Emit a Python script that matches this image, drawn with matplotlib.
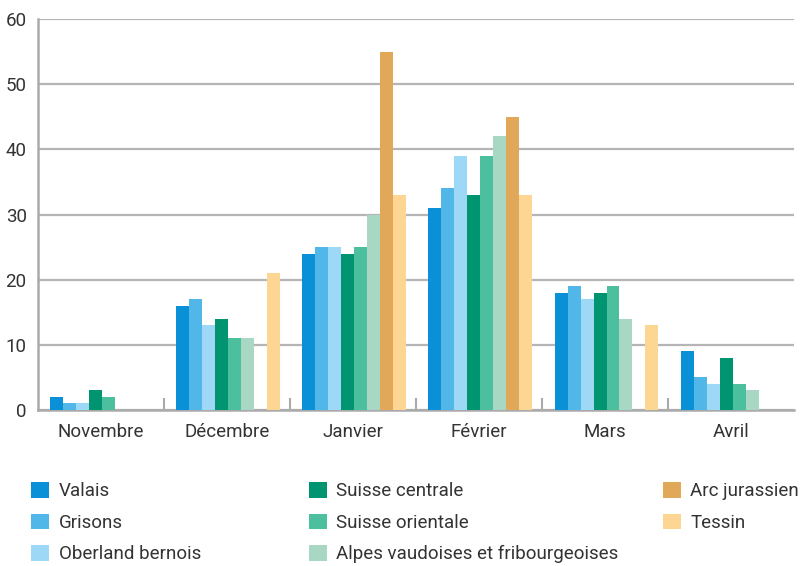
import matplotlib.pyplot as plt
import numpy as np

plt.rcParams['font.family'] = ['Roboto', 'DejaVu Sans']

mois = ['Novembre', 'Décembre', 'Janvier', 'Février', 'Mars', 'Avril']

# valeurs par région
valais = [2, 16, 24, 31, 18, 9]
grisons = [1, 17, 25, 34, 19, 5]
oberland = [1, 13, 25, 39, 17, 4]
suisse_centrale = [3, 14, 24, 33, 18, 8]
suisse_orientale = [2, 11, 25, 39, 19, 4]
alpes_vaud = [0, 11, 30, 42, 14, 3]
arc_jura = [0, 0, 55, 45, 0, 0]
tessin = [0, 21, 33, 33, 13, 0]

series = [valais, grisons, oberland, suisse_centrale, suisse_orientale,
          alpes_vaud, arc_jura, tessin]
noms = ['Valais', 'Grisons', 'Oberland bernois', 'Suisse centrale',
        'Suisse orientale', 'Alpes vaudoises et fribourgeoises',
        'Arc jurassien', 'Tessin']
couleurs = ['#0A90D7', '#51B6E8', '#9DD8F6', '#009570', '#4CC09E',
            '#A8D8C4', '#E2A859', '#FDD693']

fig = plt.figure(figsize=(8.04, 5.66), dpi=100)
ax = fig.add_axes([0.047, 0.2756, 0.941, 0.6908])

x = np.arange(len(mois))
w = 0.103
barres = []
for i, (vals, c) in enumerate(zip(series, couleurs)):
    b = ax.bar(x - 3.4 * w + i * w, vals, width=w, color=c, zorder=3)
    barres.append(b)

ax.set_xlim(-0.5, len(mois) - 0.5)
ax.set_ylim(0, 60)
ax.set_yticks(np.arange(0, 61, 10))
ax.yaxis.grid(True, color='#b5b5b5', linewidth=1.6, zorder=0)
ax.set_xticks(x)
ax.set_xticklabels(mois)
ax.set_xticks(np.arange(0.5, len(mois) - 0.5, 1), minor=True)
ax.tick_params(axis='x', which='major', length=0, pad=9, labelsize=13.5, colors='#333333')
ax.tick_params(axis='x', which='minor', length=9, direction='in', width=1.5, color='#aaaaaa')
ax.tick_params(axis='y', length=0, pad=8, labelsize=13.5, colors='#333333')

for s in ['top', 'right']:
    ax.spines[s].set_visible(False)
for s in ['left', 'bottom']:
    ax.spines[s].set_color('#aaaaaa')
    ax.spines[s].set_linewidth(1.8)

# légende en trois colonnes
pos = [(0.039, 0.148), (0.384, 0.148), (0.825, 0.148)]
groupes = [[0, 1, 2], [3, 4, 5], [6, 7]]
for (px, py), g in zip(pos, groupes):
    fig.legend([barres[i] for i in g], [noms[i] for i in g],
               loc='upper left', bbox_to_anchor=(px, py), frameon=False,
               fontsize=13.5, handlelength=0.95, handleheight=0.9,
               handletextpad=0.5, labelspacing=0.7, borderpad=0,
               borderaxespad=0, labelcolor='#333333')

fig.savefig('out.png', dpi=100)
